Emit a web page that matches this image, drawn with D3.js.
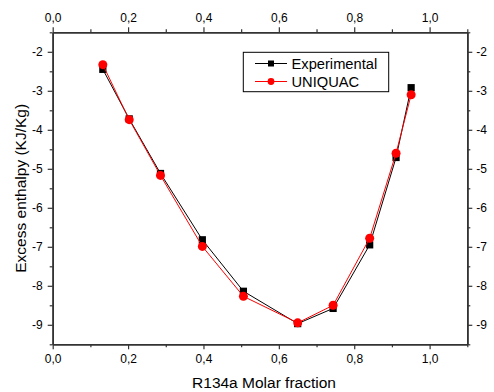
<!DOCTYPE html>
<html>
<head>
<meta charset="utf-8">
<script src="https://cdn.jsdelivr.net/npm/d3@7/dist/d3.min.js"></script>
<style>
  html, body { margin: 0; padding: 0; background: #fff; }
  svg { display: block; font-family: "Liberation Sans", Arial, sans-serif; }
</style>
</head>
<body>
<svg id="chart" width="494" height="392"></svg>
<script>
// ---- data ----
const molarFraction = [0.133, 0.203, 0.286, 0.397, 0.506, 0.650, 0.744, 0.841, 0.911, 0.951];
const experimental  = [-2.45, -3.72, -5.12, -6.82, -8.14, -8.97, -8.58, -6.95, -4.71, -2.92];
const uniquac       = [-2.33, -3.74, -5.17, -6.99, -8.27, -8.95, -8.50, -6.78, -4.60, -3.10];
const seriesNames   = ["Experimental", "UNIQUAC"];
const xMajorTicks   = [0.0, 0.2, 0.4, 0.6, 0.8, 1.0];
const xMinorTicks   = [0.1, 0.3, 0.5, 0.7, 0.9, 1.1];
const yMajorTicks   = [-9, -8, -7, -6, -5, -4, -3, -2];
const yMinorTicks   = [-9.5, -8.5, -7.5, -6.5, -5.5, -4.5, -3.5, -2.5, -1.5];
const xTitle = "R134a Molar fraction";
const yTitle = "Excess enthalpy (KJ/Kg)";

// ---- layout ----
const svg = d3.select("#chart");
const L = 52.7, R = 467.3, T = 32.3, B = 344.3;
const x = d3.scaleLinear().domain([0, 1.1]).range([L, R]);
const y = d3.scaleLinear().domain([-9.5, -1.5]).range([B, T]);
const axisColor = "#333";
const fmtX = d => d3.format(".1f")(d).replace(".", ",");
const fmtY = d => String(d);

function styleAxis(g) {
  g.selectAll("path.domain").attr("stroke", axisColor).attr("stroke-width", 1.6);
  g.selectAll(".tick line").attr("stroke", axisColor).attr("stroke-width", 1.2);
  g.selectAll(".tick text").attr("fill", "#000").style("font-size", "12px")
    .style("font-family", '"Liberation Sans", Arial, sans-serif');
}

// minor ticks
svg.append("g").attr("transform", `translate(0,${B})`)
  .call(d3.axisBottom(x).tickValues(xMinorTicks).tickSize(3).tickSizeOuter(0).tickFormat(""))
  .call(styleAxis);
svg.append("g").attr("transform", `translate(0,${T})`)
  .call(d3.axisTop(x).tickValues(xMinorTicks).tickSize(3).tickSizeOuter(0).tickFormat(""))
  .call(styleAxis);
svg.append("g").attr("transform", `translate(${L},0)`)
  .call(d3.axisLeft(y).tickValues(yMinorTicks).tickSize(3).tickSizeOuter(0).tickFormat(""))
  .call(styleAxis);
svg.append("g").attr("transform", `translate(${R},0)`)
  .call(d3.axisRight(y).tickValues(yMinorTicks).tickSize(3).tickSizeOuter(0).tickFormat(""))
  .call(styleAxis);

// major ticks
svg.append("g").attr("transform", `translate(0,${B})`)
  .call(d3.axisBottom(x).tickValues(xMajorTicks).tickSize(5).tickPadding(5).tickSizeOuter(0).tickFormat(fmtX))
  .call(styleAxis);
svg.append("g").attr("transform", `translate(0,${T})`)
  .call(d3.axisTop(x).tickValues(xMajorTicks).tickSize(5).tickPadding(5).tickSizeOuter(0).tickFormat(fmtX))
  .call(styleAxis);
svg.append("g").attr("transform", `translate(${L},0)`)
  .call(d3.axisLeft(y).tickValues(yMajorTicks).tickSize(5).tickPadding(5).tickSizeOuter(0).tickFormat(fmtY))
  .call(styleAxis);
svg.append("g").attr("transform", `translate(${R},0)`)
  .call(d3.axisRight(y).tickValues(yMajorTicks).tickSize(5).tickPadding(4).tickSizeOuter(0).tickFormat(fmtY))
  .call(styleAxis);

// titles
svg.append("text").attr("x", 264).attr("y", 388).attr("text-anchor", "middle")
  .style("font-size", "15.5px").attr("fill", "#000").text(xTitle);
svg.append("text").attr("transform", `translate(26,${(T + B) / 2}) rotate(-90)`)
  .attr("text-anchor", "middle").style("font-size", "15.5px").attr("fill", "#000").text(yTitle);

// series
const line = d3.line().x(d => x(d[0])).y(d => y(d[1]));
const expData = molarFraction.map((v, i) => [v, experimental[i]]);
const uniData = molarFraction.map((v, i) => [v, uniquac[i]]);

svg.append("path").datum(expData).attr("d", line)
  .attr("fill", "none").attr("stroke", "#000").attr("stroke-width", 1);
svg.append("g").selectAll("rect").data(expData).join("rect")
  .attr("x", d => x(d[0]) - 3.6).attr("y", d => y(d[1]) - 3.6)
  .attr("width", 7.2).attr("height", 7.2).attr("fill", "#000");

svg.append("path").datum(uniData).attr("d", line)
  .attr("fill", "none").attr("stroke", "#ff0000").attr("stroke-width", 1);
svg.append("g").selectAll("circle").data(uniData).join("circle")
  .attr("cx", d => x(d[0])).attr("cy", d => y(d[1])).attr("r", 4.5).attr("fill", "#ff0000");

// legend
const lg = svg.append("g");
lg.append("rect").attr("x", 243.3).attr("y", 52.3).attr("width", 145.4).attr("height", 39.4)
  .attr("fill", "#fff").attr("stroke", "#000").attr("stroke-width", 1);
const rows = [
  { name: seriesNames[0], color: "#000", shape: "square", cy: 63.5 },
  { name: seriesNames[1], color: "#ff0000", shape: "circle", cy: 81.5 }
];
rows.forEach(r => {
  lg.append("line").attr("x1", 255).attr("x2", 287).attr("y1", r.cy).attr("y2", r.cy)
    .attr("stroke", r.color).attr("stroke-width", 1);
  if (r.shape === "square") {
    lg.append("rect").attr("x", 271 - 3).attr("y", r.cy - 3).attr("width", 6).attr("height", 6).attr("fill", r.color);
  } else {
    lg.append("circle").attr("cx", 271).attr("cy", r.cy).attr("r", 3.4).attr("fill", r.color);
  }
  lg.append("text").attr("x", 291.5).attr("y", r.cy + 5.3).style("font-size", "14.7px")
    .attr("fill", "#000").text(r.name);
});
</script>
</body>
</html>
